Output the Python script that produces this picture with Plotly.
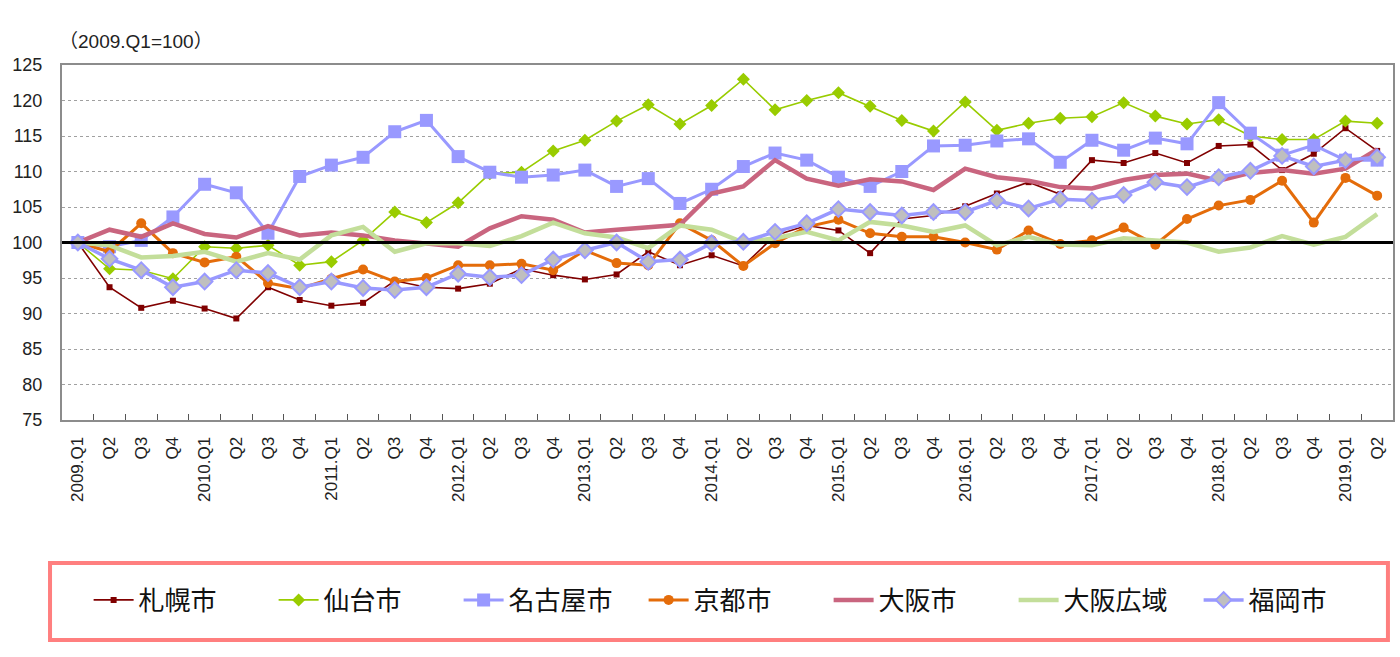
import plotly.graph_objects as go

quarters = ["2009.Q1", "Q2", "Q3", "Q4",
            "2010.Q1", "Q2", "Q3", "Q4",
            "2011.Q1", "Q2", "Q3", "Q4",
            "2012.Q1", "Q2", "Q3", "Q4",
            "2013.Q1", "Q2", "Q3", "Q4",
            "2014.Q1", "Q2", "Q3", "Q4",
            "2015.Q1", "Q2", "Q3", "Q4",
            "2016.Q1", "Q2", "Q3", "Q4",
            "2017.Q1", "Q2", "Q3", "Q4",
            "2018.Q1", "Q2", "Q3", "Q4",
            "2019.Q1", "Q2"]

sapporo = [100, 93.7, 90.8, 91.8, 90.7, 89.3, 93.7, 91.9, 91.1, 91.5, 94.6, 93.7,
           93.5, 94.2, 96.3, 95.4, 94.8, 95.5, 98.7, 96.8, 98.2, 96.7, 101.0, 102.4,
           101.7, 98.5, 103.3, 103.8, 105.1, 106.9, 108.5, 106.8, 111.6, 111.2, 112.6, 111.2,
           113.6, 113.8, 110.2, 112.5, 116.1, 112.9]
sendai = [100, 96.3, 96.1, 94.9, 99.4, 99.2, 99.6, 96.8, 97.3, 100.3, 104.3, 102.8,
          105.6, 109.7, 109.9, 112.9, 114.4, 117.1, 119.4, 116.7, 119.3, 123.0, 118.7, 120.0,
          121.1, 119.2, 117.2, 115.7, 119.8, 115.8, 116.8, 117.5, 117.7, 119.7, 117.8, 116.7,
          117.3, 115.0, 114.5, 114.5, 117.1, 116.8]
nagoya = [100, 99.4, 100.3, 103.6, 108.2, 107.0, 101.3, 109.3, 110.9, 112.0, 115.6, 117.2,
          112.1, 109.9, 109.2, 109.5, 110.2, 107.9, 109.0, 105.5, 107.5, 110.7, 112.6, 111.6,
          109.2, 107.9, 110.0, 113.6, 113.7, 114.3, 114.6, 111.3, 114.4, 113.0, 114.7, 113.9,
          119.7, 115.4, 112.3, 113.7, 111.6, 111.6]
kyoto = [100, 98.7, 102.7, 98.5, 97.2, 98.0, 94.3, 93.5, 94.9, 96.2, 94.5, 95.0,
         96.8, 96.8, 97.0, 96.1, 98.9, 97.1, 96.8, 102.7, 100.3, 96.7, 99.9, 102.2,
         103.2, 101.3, 100.8, 100.8, 100.0, 99.0, 101.7, 99.8, 100.3, 102.1, 99.7, 103.3,
         105.2, 106.0, 108.7, 102.8, 109.1, 106.6]
osaka_city = [100, 101.8, 100.8, 102.7, 101.2, 100.7, 102.3, 101.0, 101.4, 101.0, 100.3, 99.8,
              99.4, 102.0, 103.7, 103.2, 101.4, 101.8, 102.2, 102.5, 106.9, 107.9, 111.6, 109.0,
              108.0, 108.9, 108.6, 107.4, 110.4, 109.2, 108.7, 107.8, 107.6, 108.8, 109.5, 109.7,
              108.7, 109.8, 110.2, 109.7, 110.4, 113.1]
osaka_wide = [100, 99.6, 97.9, 98.1, 98.7, 97.3, 98.5, 97.6, 101.0, 102.2, 98.7, 99.9,
              99.9, 99.5, 100.9, 102.8, 101.3, 100.7, 99.2, 102.4, 101.8, 100.0, 100.6, 101.5,
              100.3, 102.9, 102.4, 101.5, 102.4, 99.6, 100.8, 99.7, 99.6, 100.6, 100.3, 100.0,
              98.7, 99.3, 100.9, 99.7, 100.8, 104.0]
fukuoka = [100, 97.7, 96.1, 93.7, 94.5, 96.1, 95.7, 93.7, 94.5, 93.6, 93.3, 93.7,
           95.6, 95.1, 95.4, 97.6, 98.9, 100.0, 97.3, 97.6, 99.9, 100.1, 101.5, 102.7,
           104.7, 104.3, 103.8, 104.3, 104.3, 105.9, 104.8, 106.1, 105.9, 106.7, 108.5, 107.8,
           109.2, 110.1, 112.2, 110.7, 111.6, 112.0]

x = list(range(len(quarters)))

series = [
    ("札幌市", sapporo, dict(color="#800000", width=1.6), dict(symbol="square", size=6, color="#800000")),
    ("仙台市", sendai, dict(color="#99CC00", width=1.6), dict(symbol="diamond", size=10, color="#99CC00")),
    ("名古屋市", nagoya, dict(color="#9999FF", width=3), dict(symbol="square", size=13, color="#9999FF")),
    ("京都市", kyoto, dict(color="#E46C0A", width=3), dict(symbol="circle", size=10, color="#E46C0A")),
    ("大阪市", osaka_city, dict(color="#C9657F", width=4.5), None),
    ("大阪広域", osaka_wide, dict(color="#C3DE9A", width=4.5), None),
    ("福岡市", fukuoka, dict(color="#9999FF", width=3.5),
     dict(symbol="diamond", size=12, color="#BFBFBF", line=dict(color="#9999FF", width=2))),
]

fig = go.Figure()
for name, vals, line, marker in series:
    fig.add_trace(go.Scatter(
        x=x, y=vals, name=name,
        mode="lines+markers" if marker else "lines",
        line=line, marker=marker if marker else None,
    ))

fig.add_shape(type="line", xref="paper", yref="y", x0=0, x1=1, y0=100, y1=100,
              line=dict(color="black", width=3), layer="above")

# legend frame
fig.add_shape(type="rect", xref="paper", yref="paper",
              x0=-0.009, x1=0.9962, y0=-0.6197, y1=-0.4028,
              line=dict(color="#FF7F7F", width=4), fillcolor="rgba(0,0,0,0)")

fig.add_annotation(text="（2009.Q1=100）", xref="paper", yref="paper",
                   x=-0.004, y=1.065, xanchor="left", yanchor="middle", showarrow=False,
                   font=dict(size=19, color="#222", family="Liberation Sans, Noto Sans CJK JP"))

fig.update_layout(
    width=1400, height=657,
    margin=dict(l=62, r=5, t=65, b=237),
    paper_bgcolor="white", plot_bgcolor="white",
    font=dict(family="Liberation Sans, Noto Sans CJK JP", color="#222"),
    showlegend=True,
    legend=dict(orientation="h", x=0.02, y=-0.507, xanchor="left", yanchor="middle",
                font=dict(size=26, family="Noto Sans CJK JP", color="#111"),
                entrywidth=130, itemwidth=40, bgcolor="rgba(0,0,0,0)",
                traceorder="normal"),
)

fig.update_xaxes(
    range=[-0.5, len(quarters) - 0.5],
    tickmode="array", tickvals=x, ticktext=quarters, tickangle=-90,
    tickfont=dict(size=17, color="#222"),
    ticks="outside", ticklen=8, tickcolor="rgba(0,0,0,0)",
    showgrid=False, zeroline=False,
    showline=True, linecolor="#8C8C8C", linewidth=2, mirror=True,
    minor=dict(tickmode="array", tickvals=[i + 0.5 for i in x[:-1]],
               ticks="inside", ticklen=6, tickcolor="#555", tickwidth=1, showgrid=False),
)

fig.update_yaxes(
    range=[75, 125], tickmode="linear", tick0=75, dtick=5,
    tickfont=dict(size=18, color="#222"),
    ticks="outside", ticklen=14, tickcolor="rgba(0,0,0,0)",
    showgrid=True, gridcolor="#A0A0A0", griddash="dot", gridwidth=1,
    zeroline=False,
    showline=True, linecolor="#8C8C8C", linewidth=2, mirror=True,
)

fig.write_html("out.html")
